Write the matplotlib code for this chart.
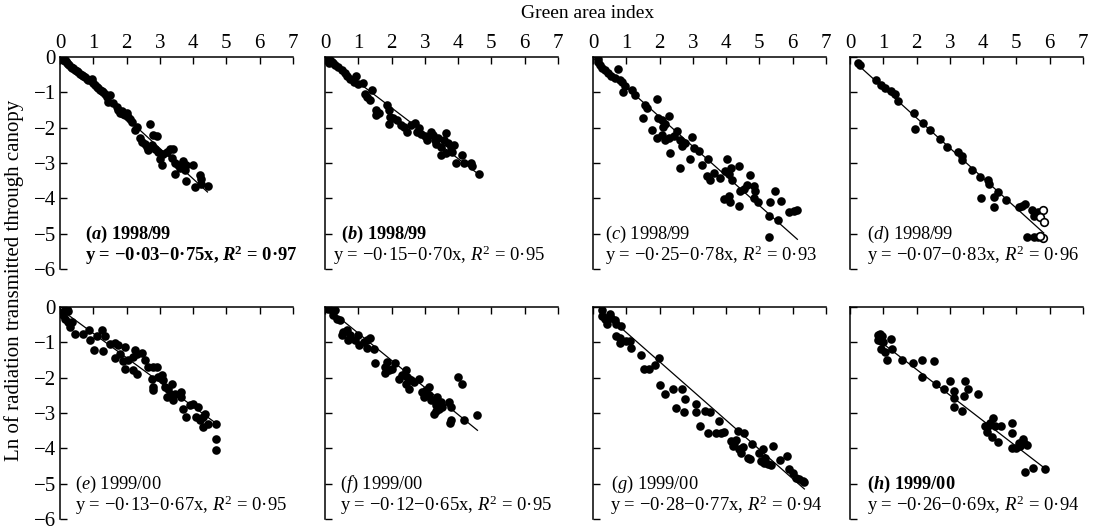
import matplotlib
matplotlib.use("Agg")
import matplotlib.pyplot as plt

plt.rcParams['font.family'] = ['Liberation Serif', 'DejaVu Serif']
plt.rcParams['mathtext.fontset'] = 'custom'
plt.rcParams['mathtext.rm'] = 'Liberation Serif'
plt.rcParams['mathtext.it'] = 'Liberation Serif:italic'
plt.rcParams['mathtext.bf'] = 'Liberation Serif:bold'
plt.rcParams['mathtext.bfit'] = 'Liberation Serif:italic:bold'

# (a) 1998/99
gai_a = [0.03, 0.06, 0.1, 0.12, 0.15, 0.18, 0.2, 0.25, 0.28, 0.32, 0.35, 0.4, 0.45, 0.5, 0.55, 0.6,
         0.65, 0.7, 0.75, 0.8, 0.85, 0.95, 1.0, 1.05, 1.1, 1.15, 1.2, 1.25, 1.3, 1.35, 1.4, 1.5,
         1.45, 1.6, 1.7, 1.75, 1.8, 1.85, 1.9, 1.95, 2.0, 2.05, 2.1, 2.15, 2.25, 2.3, 2.7, 2.4,
         2.45, 2.55, 2.6, 2.65, 2.8, 2.9, 2.75, 2.85, 2.95, 3.0, 3.05, 3.1, 3.2, 3.3, 3.4, 3.35,
         3.45, 3.45, 3.55, 3.6, 3.7, 3.8, 3.75, 3.8, 4.0, 4.05, 4.2, 4.25, 4.25, 4.45]
ln_a = [-0.02, -0.05, -0.08, -0.04, -0.12, -0.1, -0.18, -0.2, -0.24, -0.27, -0.3, -0.32, -0.36, -0.4,
        -0.42, -0.47, -0.5, -0.55, -0.58, -0.63, -0.66, -0.62, -0.75, -0.8, -0.84, -0.88, -0.92,
        -0.97, -1.0, -1.05, -1.12, -1.08, -1.26, -1.3, -1.42, -1.5, -1.58, -1.52, -1.6, -1.65,
        -1.58, -1.7, -1.75, -1.85, -2.08, -1.98, -1.9, -2.3, -2.4, -2.45, -2.55, -2.62, -2.2,
        -2.25, -2.5, -2.6, -2.7, -2.88, -3.05, -2.75, -2.7, -2.6, -2.6, -2.85, -3.0, -3.3, -3.05,
        -3.15, -2.95, -3.05, -3.2, -3.5, -3.05, -3.67, -3.35, -3.45, -3.6, -3.65]

# (b) 1998/99
gai_b = [0.05, 0.1, 0.15, 0.2, 0.13, 0.25, 0.3, 0.4, 0.5, 0.6, 0.67, 0.75, 0.86, 0.94, 1.0, 1.14,
         1.19, 1.26, 1.34, 1.42, 1.54, 1.61, 1.54, 1.86, 1.91, 1.94, 2.04, 1.91, 2.17, 2.27, 2.37,
         2.47, 2.57, 2.69, 2.77, 2.83, 2.89, 2.99, 3.07, 3.17, 3.23, 3.29, 3.34, 3.39, 3.49, 3.58,
         3.63, 3.7, 3.78, 3.88, 3.47, 3.63, 3.83, 3.93, 4.13, 4.18, 4.38, 4.43, 4.63]
ln_b = [-0.01, -0.04, -0.08, -0.13, -0.18, -0.16, -0.23, -0.27, -0.37, -0.46, -0.54, -0.63, -0.7,
        -0.54, -0.76, -0.75, -1.05, -1.14, -1.22, -0.92, -1.5, -1.59, -1.64, -1.36, -1.5, -1.69,
        -1.74, -1.9, -1.78, -1.92, -1.99, -2.11, -1.92, -1.88, -2.11, -2.02, -2.18, -2.25, -2.35,
        -2.11, -2.21, -2.35, -2.46, -2.3, -2.54, -2.35, -2.16, -2.44, -2.56, -2.49, -2.77, -2.73,
        -2.68, -3.01, -2.77, -3.01, -3.01, -3.08, -3.31]

# (c) 1998/99
gai_c = [0.15, 0.15, 0.2, 0.27, 0.35, 0.45, 0.55, 0.65, 0.76, 0.81, 0.88, 0.96, 0.91, 1.16, 1.26,
         1.56, 1.61, 1.51, 1.91, 1.76, 1.96, 2.06, 2.17, 2.11, 2.27, 1.91, 2.06, 2.17, 2.27, 2.32,
         2.42, 2.52, 2.62, 2.67, 2.6, 2.77, 2.97, 3.02, 3.17, 2.92, 3.27, 3.44, 3.42, 3.52, 3.63,
         3.83, 4.03, 3.98, 4.08, 4.15, 4.18, 4.38, 3.93, 4.08, 4.13, 4.38, 4.43, 4.55, 4.63, 4.71,
         4.83, 4.88, 4.83, 4.95, 5.29, 5.32, 5.46, 5.64, 5.56, 5.29, 5.89, 6.04, 6.12]
ln_c = [-0.06, -0.15, -0.23, -0.3, -0.38, -0.45, -0.53, -0.59, -0.34, -0.64, -0.72, -0.83, -0.98,
        -0.94, -1.07, -1.35, -1.44, -1.73, -1.18, -2.06, -1.73, -1.77, -1.89, -1.99, -1.68, -2.29,
        -2.2, -2.36, -2.29, -2.72, -2.25, -2.1, -2.34, -2.53, -3.14, -2.43, -2.26, -2.58, -2.67,
        -2.89, -3.05, -2.89, -3.38, -3.47, -3.28, -3.42, -2.89, -3.24, -3.3, -3.14, -3.47, -3.09,
        -4.01, -3.94, -4.11, -4.23, -3.8, -3.74, -3.61, -3.33, -3.66, -3.8, -3.99, -4.1, -4.49,
        -4.11, -3.78, -4.08, -4.6, -5.09, -4.39, -4.37, -4.32]

# (d) 1998/99, filled and open symbols
gai_d = [0.25, 0.3, 0.78, 0.92, 1.05, 1.23, 1.35, 1.45, 1.91, 1.96, 2.18, 2.41, 2.71, 2.91, 3.24,
         3.36, 3.36, 3.68, 3.91, 4.16, 4.18, 3.93, 4.34, 4.44, 4.34, 4.69, 5.07, 5.17, 5.27, 5.47,
         5.52, 5.64, 5.32, 5.52, 5.65]
ln_d = [-0.17, -0.22, -0.64, -0.78, -0.88, -0.97, -1.05, -1.24, -1.58, -2.04, -1.87, -2.06, -2.32,
        -2.55, -2.7, -2.79, -2.91, -3.19, -3.4, -3.49, -3.59, -3.98, -3.96, -3.82, -4.25, -4.06,
        -4.25, -4.21, -4.16, -4.32, -4.49, -4.4, -5.09, -5.1, -5.1]
gai_d_open = [5.8, 5.72, 5.82, 5.79, 5.7]
ln_d_open = [-4.32, -4.53, -4.68, -5.13, -5.06]

# (e) 1999/00
gai_e = [0.1, 0.15, 0.2, 0.25, 0.1, 0.15, 0.25, 0.35, 0.3, 0.45, 0.7, 0.88, 0.9, 1.02, 1.1, 1.25,
         1.3, 1.35, 1.5, 1.65, 1.75, 1.65, 1.8, 1.9, 1.95, 1.95, 2.05, 2.18, 2.25, 2.3, 2.45, 2.2,
         2.3, 2.55, 2.65, 2.8, 2.9, 2.75, 2.8, 2.8, 2.95, 3.05, 3.1, 3.15, 3.2, 3.25, 3.3, 3.35,
         3.4, 3.45, 3.65, 3.65, 3.7, 3.8, 3.9, 4.0, 4.15, 4.1, 4.2, 4.3, 4.35, 4.3, 4.45, 4.7,
         4.7, 4.7]
ln_e = [-0.14, -0.09, -0.05, -0.11, -0.24, -0.33, -0.42, -0.42, -0.57, -0.75, -0.77, -0.64, -0.94,
        -1.21, -0.83, -0.66, -1.25, -0.83, -1.06, -1.02, -1.08, -1.43, -1.32, -1.53, -1.13, -1.75,
        -1.51, -1.42, -1.23, -1.34, -1.3, -1.79, -1.89, -1.51, -1.7, -1.7, -1.7, -2.03, -2.36,
        -2.26, -1.98, -1.93, -2.08, -2.26, -2.55, -2.31, -2.5, -2.17, -2.64, -2.45, -2.41, -2.55,
        -2.88, -3.11, -2.78, -2.74, -2.83, -3.11, -3.21, -3.11, -3.04, -3.4, -3.3, -3.3, -3.73,
        -4.06]

# (f) 1999/00
gai_f = [0.1, 0.2, 0.3, 0.25, 0.35, 0.45, 0.5, 0.55, 0.65, 0.76, 0.7, 0.91, 0.98, 1.01, 1.16, 1.26,
         1.34, 1.26, 1.46, 1.51, 1.81, 1.86, 1.91, 1.81, 2.01, 2.11, 2.22, 2.32, 2.42, 2.47, 2.42,
         2.52, 2.57, 2.67, 2.82, 2.92, 2.97, 3.02, 3.12, 3.12, 3.17, 3.27, 3.32, 3.37, 3.27, 3.34,
         3.47, 3.52, 3.42, 3.73, 3.78, 3.78, 3.76, 4.0, 4.13, 4.18, 4.58]
ln_f = [-0.05, -0.09, -0.08, -0.24, -0.33, -0.38, -0.8, -0.71, -0.66, -0.8, -0.92, -0.94, -0.8,
        -1.08, -0.99, -0.94, -0.87, -1.15, -1.18, -1.58, -1.7, -1.56, -1.79, -1.87, -1.75, -1.58,
        -2.03, -1.93, -1.79, -1.98, -2.17, -2.31, -2.08, -2.12, -2.03, -2.41, -2.55, -2.36, -2.26,
        -2.5, -2.64, -2.64, -2.78, -2.55, -3.02, -2.94, -2.69, -2.83, -2.88, -2.69, -2.83, -3.21,
        -3.28, -1.98, -2.17, -3.19, -3.05]

# (g) 1999/00
gai_g = [0.28, 0.28, 0.35, 0.43, 0.5, 0.55, 0.65, 0.7, 0.83, 0.7, 0.8, 0.8, 1.0, 1.1, 1.15, 1.43,
         1.53, 1.67, 1.85, 1.97, 2.0, 2.15, 2.4, 2.67, 2.77, 2.5, 2.73, 3.1, 3.1, 3.35, 3.5, 3.2,
         3.45, 3.7, 3.85, 3.95, 3.8, 4.15, 4.2, 4.25, 4.3, 4.37, 4.55, 4.4, 4.45, 4.5, 4.65, 4.73,
         4.77, 5.0, 5.1, 5.17, 5.05, 5.15, 5.25, 5.35, 5.4, 5.63, 5.83, 5.9, 6.0, 6.1, 6.2, 6.3,
         6.35]
ln_g = [-0.09, -0.25, -0.35, -0.49, -0.21, -0.32, -0.38, -0.49, -0.54, -0.82, -0.87, -1.01, -0.96,
        -0.96, -1.15, -1.36, -1.76, -1.76, -1.64, -1.45, -2.22, -2.47, -2.31, -2.33, -2.61, -2.85,
        -2.96, -2.75, -2.96, -2.94, -2.96, -3.37, -3.56, -3.56, -3.56, -3.54, -3.23, -3.79, -3.93,
        -3.84, -3.75, -3.51, -3.56, -4.03, -4.12, -3.96, -4.26, -4.31, -3.87, -4.12, -4.03, -4.26,
        -4.36, -4.41, -4.45, -4.47, -3.93, -4.33, -4.22, -4.59, -4.69, -4.83, -4.88, -4.92, -4.94]

# (h) 1999/00
gai_h = [0.85, 0.9, 0.95, 0.85, 0.92, 0.98, 1.22, 0.93, 1.05, 1.25, 1.12, 1.57, 1.88, 2.17, 2.51,
         2.16, 2.59, 2.81, 3.01, 3.11, 3.11, 3.13, 3.36, 3.46, 3.56, 3.43, 3.84, 4.06, 4.11, 4.16,
         4.21, 4.31, 4.36, 4.26, 4.46, 4.54, 4.88, 4.88, 4.86, 4.99, 5.07, 5.19, 5.12, 5.22, 5.32,
         5.27, 5.5, 5.87]
ln_h = [-0.8, -0.76, -0.82, -0.92, -0.97, -1.0, -0.9, -1.18, -1.27, -1.2, -1.51, -1.51, -1.58,
        -1.49, -1.54, -1.99, -2.17, -2.31, -2.1, -2.39, -2.58, -2.83, -2.93, -2.1, -2.32, -2.51,
        -2.46, -3.38, -3.55, -3.36, -3.29, -3.13, -3.38, -3.67, -3.81, -3.36, -3.27, -3.57, -4.0,
        -4.0, -3.86, -3.73, -3.93, -3.86, -3.91, -4.66, -4.55, -4.59]

# fitted lines as drawn (end points)
fit_x = [[0.05, 4.43], [0.0, 4.63], [0.05, 6.14], [0.2, 5.82],
         [0.05, 4.7], [0.15, 4.58], [0.25, 6.35], [0.9, 5.9]]
fit_y = [[-0.04, -3.82], [0.0, -3.33], [-0.06, -5.16], [-0.19, -4.98],
         [-0.09, -3.3], [-0.09, -3.49], [-0.1, -5.15], [-0.97, -4.6]]

letters = ['a', 'b', 'c', 'd', 'e', 'f', 'g', 'h']
seasons = ['1998/99'] * 4 + ['1999/00'] * 4
equations = ['y = −0·03−0·75x', 'y = −0·15−0·70x', 'y = −0·25−0·78x', 'y = −0·07−0·83x',
             'y = −0·13−0·67x', 'y = −0·12−0·65x', 'y = −0·28−0·77x', 'y = −0·26−0·69x']
r2 = ['0·97', '0·95', '0·93', '0·96', '0·95', '0·95', '0·94', '0·94']

gai = [gai_a, gai_b, gai_c, gai_d, gai_e, gai_f, gai_g, gai_h]
lnr = [ln_a, ln_b, ln_c, ln_d, ln_e, ln_f, ln_g, ln_h]

# layout
lefts = [60, 325, 593, 850]
tops = [57, 307]
W, H = 1100, 529
aw, ah = 233, 212
lab_x = [0.75, 0.48, 0.36, 0.5, 0.46, 0.46, 0.55, 0.5]
eq_x = [0.75, 0.24, 0.36, 0.5, 0.46, 0.46, 0.52, 0.5]
bold1 = [True, True, False, False, False, False, False, True]
bold2 = [True, False, False, False, False, False, False, False]

fig = plt.figure(figsize=(11, 5.29), dpi=100)

for i in range(8):
    row, col = i // 4, i % 4
    ax = fig.add_axes([lefts[col] / W, 1 - (tops[row] + ah) / H, aw / W, ah / H])
    ax.plot(gai[i], lnr[i], 'o', color='black', ms=6.2, mew=0)
    if i == 3:
        ax.plot(gai_d_open, ln_d_open, 'o', mfc='white', mec='black', ms=5.5, mew=1.2)
    ax.plot(fit_x[i], fit_y[i], color='black', lw=0.9)
    ax.set_xlim(0, 7)
    ax.set_ylim(-6, 0)
    ax.set_xticks(range(8))
    ax.set_yticks(range(-6, 1))
    for s in ['bottom', 'right']:
        ax.spines[s].set_visible(False)
    for s in ['top', 'left']:
        ax.spines[s].set_linewidth(1.1)
    ax.xaxis.set_ticks_position('top')
    ax.tick_params(direction='in', length=5, width=1, labelsize=15, pad=3)
    ax.tick_params(axis='x', labeltop=(row == 0), labelbottom=False)
    ax.tick_params(axis='y', labelleft=(col == 0))

    w1 = 'bold' if bold1[i] else 'normal'
    lt = r'($\mathbfit{%s}$) ' % letters[i] if bold1[i] else r'($%s$) ' % letters[i]
    ax.text(lab_x[i], -5.02, lt + seasons[i], fontsize=13.2, fontweight=w1, va='center')
    if bold2[i]:
        t2 = equations[i] + r', $\mathbfit{R}^\mathbf{2}$ = ' + r2[i]
        w2 = 'bold'
    else:
        t2 = equations[i] + r', $R^2$ = ' + r2[i]
        w2 = 'normal'
    ax.text(eq_x[i], -5.6, t2, fontsize=13.4, fontweight=w2, va='center')

fig.text(588 / W, 1 - 13 / H, 'Green area index', ha='center', va='center', fontsize=14)
fig.text(14 / W, 1 - 280 / H, 'Ln of radiation transmitted through canopy', rotation=90,
         ha='center', va='center', fontsize=15)

fig.savefig('out.png', dpi=100)
